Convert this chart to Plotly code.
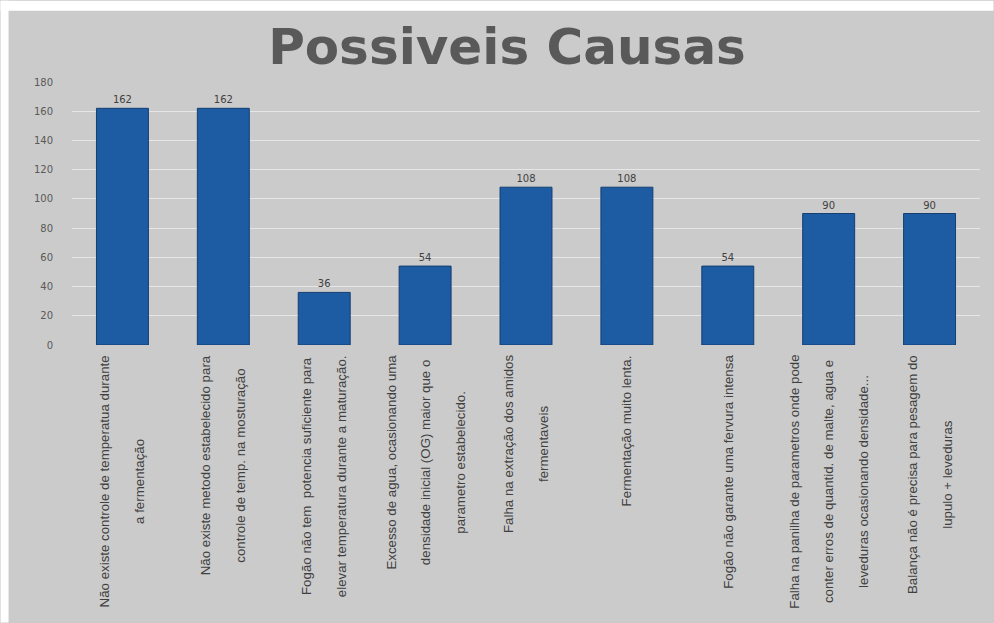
import plotly.graph_objects as go

categories = [
    "Não existe controle de temperatua durante<br>a fermentação",
    "Não existe metodo estabelecido para<br>controle de temp. na mosturação",
    "Fogão não tem  potencia suficiente para<br>elevar temperatura durante a maturação.",
    "Excesso de agua, ocasionando uma<br>densidade inicial (OG) maior que o<br>parametro estabelecido.",
    "Falha na extração dos amidos<br>fermentaveis",
    "Fermentação muito lenta.",
    "Fogão não garante uma fervura intensa",
    "Falha na panilha de parametros onde pode<br>conter erros de quantid. de malte, agua e<br>leveduras ocasionando densidade...",
    "Balança não é precisa para pesagem do<br>lupulo + leveduras",
]
values = [162, 162, 36, 54, 108, 108, 54, 90, 90]
y_ticks = [0, 20, 40, 60, 80, 100, 120, 140, 160, 180]
title_text = "Possiveis Causas"

x_idx = list(range(len(categories)))

fig = go.Figure()
fig.add_trace(go.Bar(
    x=x_idx, y=values,
    width=0.515,
    marker=dict(color="#1d5ba2", line=dict(color="#133f72", width=1)),
    text=[str(v) for v in values],
    textposition="outside",
    textfont=dict(family="DejaVu Sans", size=10, color="#404040"),
    cliponaxis=False,
))

label_font = dict(family="Liberation Sans, Arial, sans-serif", size=13.3, color="#404040")
annotations = []
for i, c in enumerate(categories):
    annotations.append(dict(
        x=i, y=0, xref="x", yref="y",
        text=c.replace("<br>", "<br><br>"), textangle=-90, showarrow=False,
        xanchor="center", yanchor="top", yshift=-8, align="center",
        font=label_font,
    ))

L, R, T, B = 71.5, 994 - 980.5, 81.5, 623 - 345
W, H = 994 - L - R, 623 - T - B
shapes = [
    dict(type="rect", xref="paper", yref="paper",
         x0=-L / W, x1=(8 - L) / W, y0=-B / H, y1=1 + T / H,
         fillcolor="white", line=dict(width=0), layer="below"),
    dict(type="rect", xref="paper", yref="paper",
         x0=-L / W, x1=1 + R / W, y0=1 + (T - 10) / H, y1=1 + T / H,
         fillcolor="white", line=dict(width=0), layer="below"),
]

fig.update_layout(
    width=994, height=623,
    margin=dict(l=L, r=R, t=T, b=B),
    paper_bgcolor="#cbcbcb", plot_bgcolor="#cbcbcb",
    title=dict(text="<b>" + title_text + "</b>", x=(507 - L) / W, xref="paper", xanchor="center",
               y=1 - 46 / 623, yanchor="middle",
               font=dict(family="DejaVu Sans", size=50, color="#595959")),
    showlegend=False,
    annotations=annotations,
    shapes=shapes,
    xaxis=dict(range=[-0.5, 8.5], showticklabels=False, showgrid=False, zeroline=False,
               showline=False, ticks=""),
    yaxis=dict(range=[0, 180], tickvals=y_ticks, showgrid=True, gridcolor="#e6e6e6",
               gridwidth=1, zeroline=False, showline=False, ticks="",
               ticklabelstandoff=18,
               tickfont=dict(family="DejaVu Sans", size=10, color="#595959")),
)

fig.write_html("out.html")
